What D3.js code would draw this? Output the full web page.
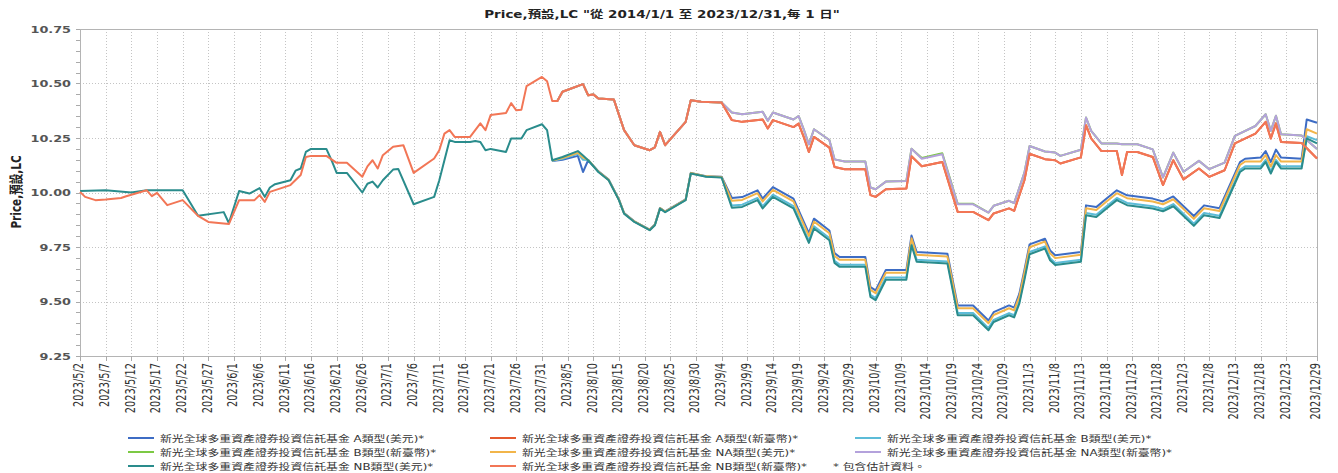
<!DOCTYPE html>
<html><head><meta charset="utf-8">
<script src="https://cdn.jsdelivr.net/npm/d3@7"></script>
<style>body{margin:0;background:#fff}svg{display:block}</style>
</head><body><svg id="c" width="1338" height="473"></svg>
<script>
// ---------- DATA ----------
// USD-class group (lower lines): dates and NB(美元) values
const datesLo = ["05-02","05-07","05-12","05-15","05-22","05-25","05-30","05-31","06-02","06-04","06-06","06-07","06-08","06-09","06-12","06-13","06-14","06-15","06-16","06-19","06-20","06-21","06-23","06-26","06-27","06-28","06-29","06-30","07-02","07-03","07-06","07-10","07-11","07-13","07-14","07-17","07-18","07-19","07-20","07-21","07-24","07-25","07-27","07-28","07-31","08-01",
"08-02","08-04","08-07","08-08","08-09","08-11","08-13","08-15","08-16","08-18","08-21","08-22","08-23","08-24","08-28","08-29","09-01","09-04","09-06","09-08","09-11","09-12","09-14","09-18","09-21","09-22","09-25","09-26","09-27","10-02","10-03","10-04","10-06","10-10","10-11","10-12","10-18","10-20","10-23","10-26","10-27","10-30","10-31","11-01","11-02","11-03","11-06","11-07","11-08","11-13","11-14","11-16","11-18","11-20","11-22","11-27","11-29","12-01","12-05","12-07","12-10","12-14","12-15","12-18","12-19","12-20","12-21","12-22","12-26","12-27","12-29"];
const nbUsd = [10.007,10.010,10.000,10.010,10.010,9.893,9.910,9.860,10.007,9.995,10.020,9.980,10.023,10.038,10.056,10.100,10.110,10.186,10.200,10.200,10.148,10.090,10.090,10.000,10.040,10.050,10.023,10.056,10.105,10.108,9.946,9.980,10.056,10.240,10.232,10.232,10.236,10.232,10.194,10.200,10.186,10.248,10.248,10.286,10.313,10.286,
10.148,10.163,10.190,10.170,10.148,10.094,10.056,9.965,9.903,9.865,9.827,9.850,9.926,9.910,9.965,10.087,10.072,10.069,9.930,9.934,9.965,9.927,9.980,9.927,9.769,9.835,9.781,9.677,9.659,9.659,9.521,9.506,9.600,9.600,9.758,9.682,9.674,9.437,9.437,9.368,9.406,9.437,9.427,9.490,9.600,9.717,9.743,9.689,9.667,9.682,9.896,9.888,9.927,9.965,9.942,9.927,9.914,9.937,9.847,9.896,9.883,10.094,10.110,10.110,10.140,10.087,10.140,10.110,10.110,10.248,10.225];
// later-starting USD classes (aligned to the last dates of datesLo)
const aUsd = [10.145,10.150,10.168,10.094,10.148,10.097,10.059,9.968,9.906,9.868,9.830,9.853,9.929,9.913,9.968,10.090,10.075,10.072,9.975,9.979,10.010,9.972,10.025,9.972,9.814,9.880,9.826,9.722,9.704,9.704,9.566,9.551,9.645,9.645,9.803,9.727,9.719,9.482,9.482,9.413,9.451,9.482,9.472,9.535,9.645,9.762,9.788,9.734,9.712,9.727,9.941,9.933,9.972,10.010,9.987,9.972,9.959,9.982,9.892,9.941,9.928,10.139,10.155,10.160,10.190,10.140,10.197,10.160,10.155,10.335,10.320];
const bUsd = [10.146,10.155,10.178,10.150,10.149,10.095,10.057,9.966,9.904,9.866,9.828,9.851,9.927,9.911,9.966,10.088,10.073,10.070,9.940,9.944,9.975,9.937,9.990,9.937,9.779,9.845,9.791,9.687,9.669,9.669,9.531,9.516,9.610,9.610,9.768,9.692,9.684,9.447,9.447,9.378,9.416,9.447,9.437,9.500,9.610,9.727,9.753,9.699,9.677,9.692,9.906,9.898,9.937,9.975,9.952,9.937,9.924,9.947,9.857,9.906,9.893,10.104,10.120,10.120,10.150,10.097,10.150,10.120,10.120,10.258,10.240];
const naUsd = [10.147,10.158,10.182,10.160,10.150,10.096,10.058,9.967,9.905,9.867,9.829,9.852,9.928,9.912,9.967,10.089,10.074,10.071,9.962,9.966,9.997,9.959,10.012,9.959,9.801,9.867,9.813,9.709,9.691,9.691,9.553,9.538,9.632,9.632,9.790,9.714,9.706,9.469,9.469,9.400,9.438,9.469,9.459,9.522,9.632,9.749,9.775,9.721,9.699,9.714,9.928,9.920,9.959,9.997,9.974,9.959,9.946,9.969,9.879,9.928,9.915,10.126,10.142,10.142,10.172,10.119,10.172,10.142,10.142,10.290,10.270];

// TWD-class group (upper lines): dates and NB(新臺幣) values
const datesHi = ["05-02","05-03","05-05","05-07","05-10","05-11","05-15","05-16","05-17","05-19","05-22","05-25","05-27","05-31","06-02","06-05","06-06","06-07","06-08","06-12","06-14","06-15","06-16","06-19","06-21","06-23","06-26","06-27","06-28","06-29","06-30","07-02","07-04","07-06","07-10","07-11","07-12","07-13","07-14","07-17","07-19","07-20","07-21","07-24","07-25","07-26","07-27","07-28","07-31","08-01",
"08-02","08-03","08-04","08-08","08-09","08-10","08-11","08-14","08-16","08-18","08-21","08-22","08-23","08-24","08-28","08-29","08-31","09-04","09-06","09-08","09-12","09-13","09-14","09-18","09-19","09-20","09-21","09-22","09-25","09-26","09-28","10-02","10-03","10-04","10-06","10-10","10-11","10-13","10-17","10-20","10-23","10-26","10-27","10-30","10-31","11-02","11-03","11-06","11-08","11-09","11-13","11-14","11-15","11-17","11-20","11-21","11-22","11-24","11-27","11-29","12-01","12-03","12-06","12-08","12-11","12-13","12-17","12-19","12-20","12-21","12-22","12-26","12-29"];
const nbTwd = [10.003,9.980,9.965,9.968,9.975,9.983,10.010,9.983,9.998,9.942,9.965,9.893,9.865,9.855,9.965,9.965,9.988,9.957,10.003,10.034,10.080,10.163,10.168,10.168,10.136,10.136,10.072,10.120,10.148,10.110,10.171,10.210,10.217,10.090,10.156,10.194,10.270,10.286,10.255,10.255,10.317,10.286,10.355,10.365,10.410,10.377,10.380,10.488,10.530,10.510,
10.420,10.420,10.462,10.497,10.446,10.450,10.431,10.427,10.286,10.217,10.194,10.207,10.278,10.217,10.324,10.423,10.416,10.413,10.332,10.324,10.335,10.294,10.332,10.300,10.316,10.255,10.186,10.255,10.206,10.117,10.107,10.107,9.988,9.980,10.015,10.018,10.166,10.120,10.140,9.911,9.911,9.873,9.904,9.927,9.916,10.056,10.178,10.153,10.148,10.133,10.161,10.309,10.248,10.190,10.190,10.080,10.186,10.186,10.163,10.034,10.148,10.060,10.110,10.072,10.102,10.225,10.270,10.324,10.248,10.317,10.232,10.227,10.156];
// later-starting TWD classes (aligned to the last dates of datesHi)
const aTwd = [10.420,10.420,10.462,10.497,10.446,10.450,10.431,10.427,10.286,10.217,10.194,10.207,10.278,10.217,10.324,10.423,10.416,10.413,10.332,10.324,10.335,10.294,10.332,10.300,10.316,10.255,10.186,10.255,10.206,10.117,10.107,10.107,9.988,9.980,10.015,10.018,10.166,10.120,10.140,9.911,9.911,9.873,9.904,9.927,9.916,10.056,10.178,10.153,10.148,10.133,10.161,10.309,10.248,10.190,10.190,10.080,10.186,10.186,10.163,10.034,10.148,10.060,10.110,10.072,10.102,10.225,10.270,10.324,10.248,10.317,10.232,10.227,10.156];
const bTwd = [10.420,10.420,10.462,10.497,10.446,10.450,10.431,10.427,10.286,10.217,10.194,10.207,10.278,10.217,10.324,10.423,10.416,10.413,10.367,10.359,10.370,10.329,10.367,10.335,10.351,10.290,10.221,10.290,10.241,10.152,10.142,10.142,10.023,10.015,10.050,10.053,10.201,10.158,10.180,9.948,9.948,9.908,9.939,9.962,9.951,10.091,10.213,10.188,10.183,10.168,10.196,10.344,10.283,10.225,10.225,10.221,10.221,10.221,10.198,10.069,10.183,10.095,10.145,10.107,10.137,10.260,10.305,10.359,10.283,10.352,10.267,10.262,10.200];
const naTwd = [10.420,10.420,10.462,10.497,10.446,10.450,10.431,10.427,10.286,10.217,10.194,10.207,10.278,10.217,10.324,10.423,10.416,10.413,10.367,10.359,10.370,10.329,10.367,10.335,10.351,10.290,10.221,10.290,10.241,10.152,10.142,10.142,10.023,10.015,10.050,10.053,10.201,10.155,10.175,9.946,9.946,9.908,9.939,9.962,9.951,10.091,10.213,10.188,10.183,10.168,10.196,10.344,10.283,10.225,10.225,10.221,10.221,10.221,10.198,10.069,10.183,10.095,10.145,10.107,10.137,10.260,10.305,10.359,10.283,10.352,10.267,10.262,10.200];

const seriesNames = [
 "新光全球多重資產證券投資信託基金 A類型(美元)*",
 "新光全球多重資產證券投資信託基金 A類型(新臺幣)*",
 "新光全球多重資產證券投資信託基金 B類型(美元)*",
 "新光全球多重資產證券投資信託基金 B類型(新臺幣)*",
 "新光全球多重資產證券投資信託基金 NA類型(美元)*",
 "新光全球多重資產證券投資信託基金 NA類型(新臺幣)*",
 "新光全球多重資產證券投資信託基金 NB類型(美元)*",
 "新光全球多重資產證券投資信託基金 NB類型(新臺幣)*"];
const noteText = "*  包含估計資料。";
const titleText = "Price,預設,LC \"從 2014/1/1 至 2023/12/31,每 1 日\"";
const yTitle = "Price,預設,LC";
const yTicks = [9.25,9.50,9.75,10.00,10.25,10.50,10.75];
const xTickLabels = ["2023/5/2","2023/5/7","2023/5/12","2023/5/17","2023/5/22","2023/5/27","2023/6/1","2023/6/6","2023/6/11","2023/6/16","2023/6/21","2023/6/26","2023/7/1","2023/7/6","2023/7/11","2023/7/16","2023/7/21","2023/7/26","2023/7/31","2023/8/5","2023/8/10","2023/8/15","2023/8/20","2023/8/25","2023/8/30","2023/9/4","2023/9/9","2023/9/14","2023/9/19","2023/9/24","2023/9/29","2023/10/4","2023/10/9","2023/10/14","2023/10/19","2023/10/24","2023/10/29","2023/11/3","2023/11/8","2023/11/13","2023/11/18","2023/11/23","2023/11/28","2023/12/3","2023/12/8","2023/12/13","2023/12/18","2023/12/23","2023/12/29"];

// ---------- CHART ----------
const colors = ["#3d6cc4","#e4592f","#5cbcd8","#7cc944","#f2b54a","#b4a2dc","#2a8c8c","#f27656"];
const L=80,R=1317,T=29,B=356,SX=1.35;
const FONT = "'DejaVu Sans','Noto Sans CJK TC',sans-serif";
const parse = d3.timeParse("%Y-%m-%d");
const parseTick = d3.timeParse("%Y/%m/%d");
const x = d3.scaleTime().domain([parse("2023-05-02"), parse("2023-12-29")]).range([L,R]);
const y = d3.scaleLinear().domain([9.25,10.75]).range([B,T]);
const svg = d3.select("#c");

function build(dates, vals){
  const d = dates.slice(dates.length - vals.length);
  return vals.map((v,i)=>({date: parse("2023-"+d[i]), value: v}));
}
const series = [
  build(datesLo,aUsd), build(datesHi,aTwd), build(datesLo,bUsd), build(datesHi,bTwd),
  build(datesLo,naUsd), build(datesHi,naTwd), build(datesLo,nbUsd), build(datesHi,nbTwd)];

const tickDates = xTickLabels.map(parseTick);

// grid
const g = svg.append("g");
g.selectAll(".vg").data(tickDates.slice(1, -1)).join("line")
  .attr("x1",d=>Math.round(x(d))+0.5).attr("x2",d=>Math.round(x(d))+0.5).attr("y1",T).attr("y2",B)
  .attr("stroke","#c4c4c4").attr("stroke-dasharray","1,2");
g.selectAll(".hg").data(yTicks.slice(1,-1)).join("line")
  .attr("x1",L).attr("x2",R).attr("y1",d=>Math.round(y(d))+0.5).attr("y2",d=>Math.round(y(d))+0.5)
  .attr("stroke","#c4c4c4").attr("stroke-dasharray","1,2");
// frame
g.append("rect").attr("x",L+0.5).attr("y",T+0.5).attr("width",R-L).attr("height",B-T)
  .attr("fill","none").attr("stroke","#b4b4b4");

// y ticks (major + minor)
const minor = d3.range(0,31).map(i=>9.25+i*0.05);
g.selectAll(".mt").data(minor).join("line")
  .attr("x1",L-4).attr("x2",L).attr("y1",d=>Math.round(y(d))+0.5).attr("y2",d=>Math.round(y(d))+0.5)
  .attr("stroke","#aaa");
g.selectAll(".yl").data(yTicks).join("text")
  .attr("transform",d=>`translate(71,${y(d)+3.5}) scale(${SX},1)`)
  .attr("text-anchor","end").attr("font-family",FONT).attr("font-size","9.5px").attr("font-weight","bold")
  .attr("fill","#555").text(d=>d3.format(".2f")(d));

// x ticks
g.selectAll(".xt").data(tickDates).join("line")
  .attr("x1",d=>Math.round(x(d))+0.5).attr("x2",d=>Math.round(x(d))+0.5).attr("y1",B).attr("y2",B+5)
  .attr("stroke","#aaa");
g.selectAll(".xl").data(tickDates).join("text")
  .attr("transform",(d)=>`translate(${x(d)+3.4},${B+7}) scale(${SX},1) rotate(-90)`)
  .attr("text-anchor","end").attr("font-family",FONT).attr("font-size","9.8px").attr("fill","#333")
  .text((d,i)=>xTickLabels[i]);

// lines
const line = d3.line().x(d=>x(d.date)).y(d=>y(d.value));
svg.append("g").selectAll("path").data(series).join("path")
  .attr("d",line).attr("fill","none").attr("stroke",(d,i)=>colors[i])
  .attr("stroke-width",2).attr("stroke-linejoin","round");

// title
svg.append("text").attr("transform",`translate(662,18) scale(${SX},1)`).attr("text-anchor","middle")
  .attr("font-family",FONT).attr("font-size","10px").attr("font-weight","bold").attr("fill","#222").text(titleText);
// y title
svg.append("text").attr("transform",`translate(21,192) scale(${SX},1) rotate(-90)`).attr("text-anchor","middle")
  .attr("font-family",FONT).attr("font-size","10.5px").attr("font-weight","bold").attr("fill","#222").text(yTitle);

// legend
const legX = [128,490,855], legY = [438,452,466];
const lg = svg.append("g");
seriesNames.forEach((n,i)=>{
  const cx = legX[i%3], cy = legY[Math.floor(i/3)];
  lg.append("line").attr("x1",cx).attr("x2",cx+26).attr("y1",cy).attr("y2",cy).attr("stroke",colors[i]).attr("stroke-width",2);
  lg.append("text").attr("transform",`translate(${cx+32},${cy+3.5}) scale(${SX},1)`)
    .attr("font-family",FONT).attr("font-size","8.8px").attr("fill","#333").text(n);
});
lg.append("text").attr("transform",`translate(${legX[2]-22},${legY[2]+3.5}) scale(${SX},1)`)
  .attr("font-family",FONT).attr("font-size","8.8px").attr("fill","#333").text(noteText);
</script></body></html>
